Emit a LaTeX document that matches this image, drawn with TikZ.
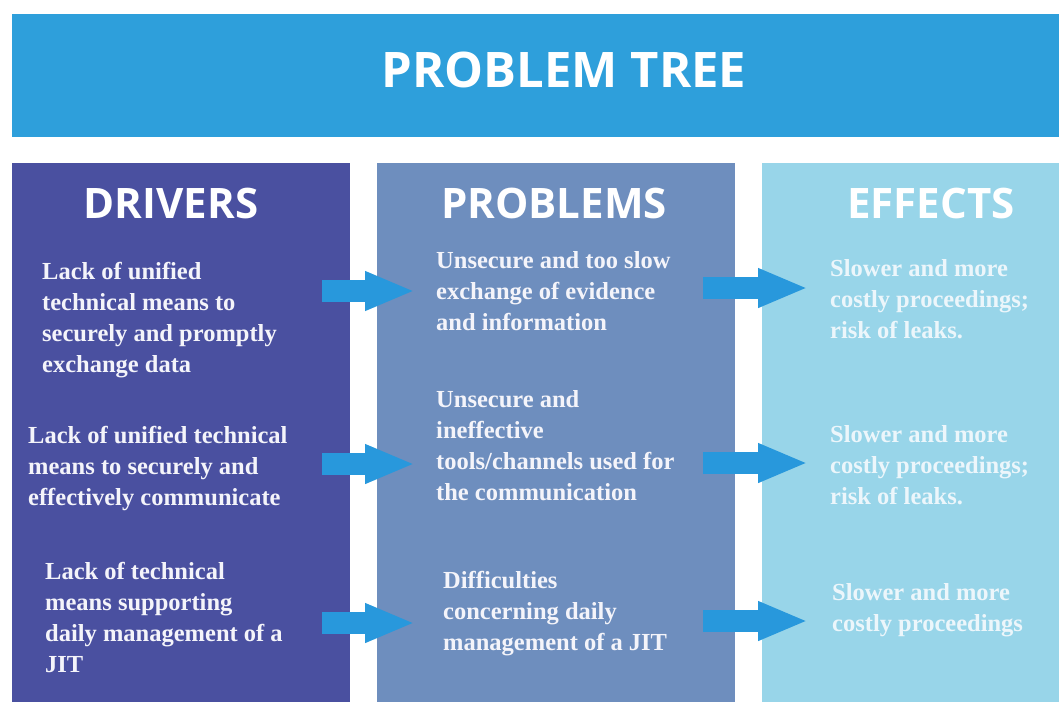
\documentclass[tikz,border=0pt]{standalone}
\usepackage{fontspec}
\setmainfont{Liberation Serif}
\newfontfamily\headfont{Open Sans}
\usetikzlibrary{arrows.meta}
\definecolor{hdrblue}{RGB}{46,159,219}
\definecolor{drvcol}{RGB}{74,80,160}
\definecolor{prbcol}{RGB}{110,142,190}
\definecolor{effcol}{RGB}{152,213,233}
\definecolor{arrcol}{RGB}{40,152,220}
\definecolor{drvtext}{RGB}{244,244,250}
\definecolor{efftext}{RGB}{236,246,251}
\tikzset{
  headtxt/.style={text=white, font=\headfont\bfseries\fontsize{42}{48}\selectfont, inner sep=0pt},
  celltxt/.style={font=\bfseries\fontsize{24.5}{31}\selectfont, align=left, anchor=west, inner sep=0pt, text=drvtext},
  efftxt/.style={celltxt, text=efftext},
  fat/.style={draw=arrcol, line width=22pt, -{Triangle[length=50pt 0 1, width=36pt 0 1]}},
}
\begin{document}
\begin{tikzpicture}[x=1pt,y=-1pt]
\useasboundingbox (0,0) rectangle (1059,702);
\fill[white] (0,0) rectangle (1059,702);
% header
\fill[hdrblue] (12,14) rectangle (1059,137);
\node[text=white, font=\headfont\bfseries\fontsize{49}{56}\selectfont, inner sep=0pt] (title) at (564,70) {PROBLEM TREE};
% columns
\fill[drvcol] (12,163) rectangle (350,702);
\fill[prbcol] (377,163) rectangle (735,702);
\fill[effcol] (762,163) rectangle (1059,702);
\node[headtxt] (hD) at (171,203) {DRIVERS};
\node[headtxt] (hP) at (554,203) {PROBLEMS};
\node[headtxt] (hE) at (931,203) {EFFECTS};
% drivers
\node[celltxt] (d1) at (42,320) {Lack of unified\\technical means to\\securely and promptly\\exchange data};
\node[celltxt] (d2) at (28,469) {Lack of unified technical\\means to securely and\\effectively communicate};
\node[celltxt] (d3) at (45,617) {Lack of technical\\means supporting\\daily management of a\\JIT};
% problems
\node[celltxt] (p1) at (436,291) {Unsecure and too slow\\exchange of evidence\\and information};
\node[celltxt] (p2) at (436,446) {Unsecure and\\ineffective\\tools/channels used for\\the communication};
\node[celltxt] (p3) at (443,614) {Difficulties\\concerning daily\\management of a JIT};
% effects
\node[efftxt] (e1) at (830,299) {Slower and more\\costly proceedings;\\risk of leaks.};
\node[efftxt] (e2) at (830,465) {Slower and more\\costly proceedings;\\risk of leaks.};
\node[efftxt] (e3) at (832,610) {Slower and more\\costly proceedings};
% connectors
\coordinate (s1) at (322,291); \coordinate (t1) at (415,291);
\coordinate (s2) at (322,464); \coordinate (t2) at (415,464);
\coordinate (s3) at (322,623); \coordinate (t3) at (415,623);
\coordinate (u1) at (703,288); \coordinate (v1) at (808,288);
\coordinate (u2) at (703,463); \coordinate (v2) at (808,463);
\coordinate (u3) at (703,621); \coordinate (v3) at (808,621);
\draw[fat] (s1) -- (t1);
\draw[fat] (s2) -- (t2);
\draw[fat] (s3) -- (t3);
\draw[fat] (u1) -- (v1);
\draw[fat] (u2) -- (v2);
\draw[fat] (u3) -- (v3);
\end{tikzpicture}
\end{document}
